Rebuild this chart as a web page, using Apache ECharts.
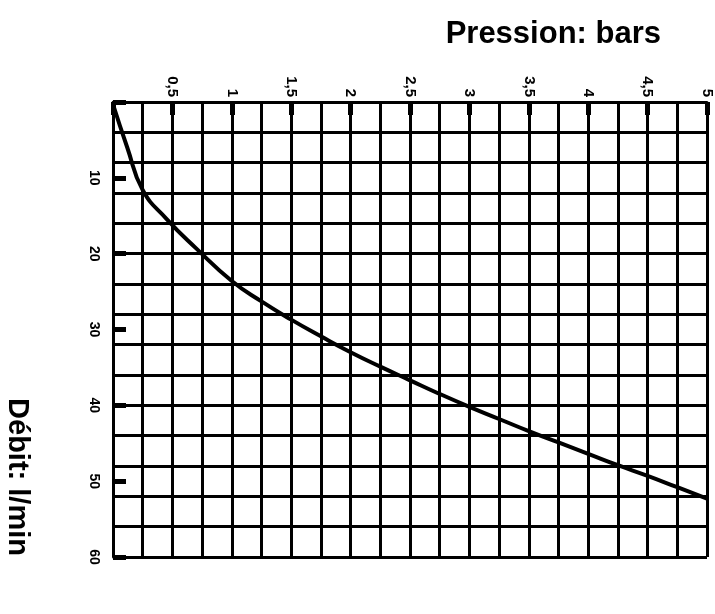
<!DOCTYPE html>
<html>
<head>
<meta charset="utf-8">
<script src="https://cdn.jsdelivr.net/npm/echarts@6/dist/echarts.min.js"></script>
<style>
  html, body { margin: 0; padding: 0; background: #fff; }
  #main { width: 715px; height: 614px; }
</style>
</head>
<body>
<div id="main"></div>
<script>
// pression (bars) / débit (l/min)
var pression = [0, 0.12, 0.25, 0.45, 0.7, 1, 1.25, 1.5, 1.75, 2, 2.25, 2.5, 2.75, 3, 3.25, 3.5, 3.75, 4, 4.25, 4.5, 4.75, 5];
var debit = [0.3, 6.0, 11.6, 15.4, 19.3, 23.6, 26.3, 28.7, 30.9, 33.0, 34.9, 36.7, 38.5, 40.2, 41.8, 43.4, 44.9, 46.4, 47.9, 49.3, 50.8, 52.3];

var xTicks = [0.5, 1, 1.5, 2, 2.5, 3, 3.5, 4, 4.5, 5];
var yTicks = [10, 20, 30, 40, 50, 60];

var titreX = 'Pression: bars';
var titreY = 'Débit: l/min';

var points = pression.map(function (p, i) { return [p, debit[i]]; });

var noir = '#000';
var font = 'Liberation Sans, Arial, sans-serif';

var myChart = echarts.init(document.getElementById('main'));
myChart.setOption({
    backgroundColor: '#fff',
    animation: false,
    grid: { left: 113, top: 102, right: 8, bottom: 57 },
    title: {
        text: titreX,
        right: 49,
        top: 14,
        textStyle: { color: noir, fontSize: 31, fontWeight: 'bold', fontFamily: font }
    },
    graphic: [{
        type: 'text',
        x: 17,
        y: 477,
        rotation: -Math.PI / 2,
        style: {
            text: titreY,
            fill: noir,
            font: 'bold 29px ' + font,
            textAlign: 'center',
            textVerticalAlign: 'middle'
        }
    }],
    xAxis: [
        {
            type: 'value', position: 'top', min: 0, max: 5, interval: 0.25,
            axisLine: { show: true, lineStyle: { color: noir, width: 3 } },
            axisTick: { show: false },
            axisLabel: { show: false },
            splitLine: { show: true, lineStyle: { color: noir, width: 3 } }
        },
        {
            type: 'value', position: 'top', min: 0, max: 5, interval: 0.5,
            axisLine: { show: false },
            axisTick: { show: true, inside: true, length: 13, lineStyle: { color: noir, width: 5 } },
            axisLabel: {
                rotate: -90, margin: 5, color: noir, fontSize: 15, fontWeight: 'bold', fontFamily: font,
                formatter: function (v) {
                    return xTicks.indexOf(v) < 0 ? '' : String(v).replace('.', ',');
                }
            },
            splitLine: { show: false }
        }
    ],
    yAxis: [
        {
            type: 'value', inverse: true, min: 0, max: 60, interval: 4,
            axisLine: { show: true, lineStyle: { color: noir, width: 3 } },
            axisTick: { show: false },
            axisLabel: { show: false },
            splitLine: { show: true, lineStyle: { color: noir, width: 3 } }
        },
        {
            type: 'value', position: 'left', inverse: true, min: 0, max: 60, interval: 10,
            axisLine: { show: false },
            axisTick: { show: true, inside: true, length: 13, lineStyle: { color: noir, width: 5 } },
            axisLabel: {
                rotate: -90, margin: 12, color: noir, fontSize: 14, fontWeight: 'bold', fontFamily: font,
                formatter: function (v) {
                    return yTicks.indexOf(v) < 0 ? '' : String(v);
                }
            },
            splitLine: { show: false }
        }
    ],
    series: [{
        type: 'line',
        xAxisIndex: 0,
        yAxisIndex: 0,
        data: points,
        smooth: 0.5,
        showSymbol: false,
        lineStyle: { color: noir, width: 4 }
    }]
});
</script>
</body>
</html>
